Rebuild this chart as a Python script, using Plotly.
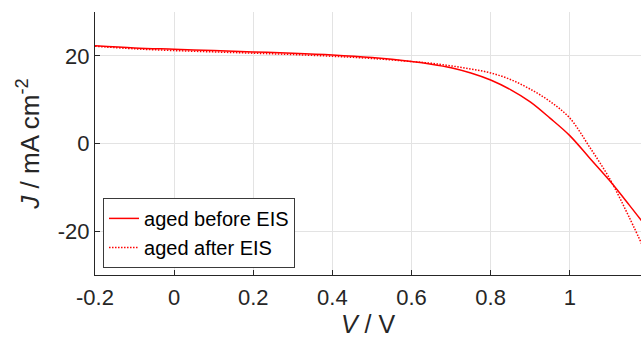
import plotly.graph_objects as go

V_before = [-0.2, -0.1, 0.0, 0.1, 0.2, 0.3, 0.4, 0.5, 0.6, 0.65, 0.7, 0.75, 0.8, 0.85, 0.9, 0.95, 1.0, 1.05, 1.1, 1.15, 1.2]
J_before = [22.3, 21.8, 21.5, 21.2, 20.9, 20.6, 20.2, 19.6, 18.7, 18.1, 17.3, 16.1, 14.5, 12.3, 9.5, 5.8, 1.8, -3.3, -8.4, -14.0, -19.8]

V_after = [-0.2, -0.1, 0.0, 0.1, 0.2, 0.3, 0.4, 0.5, 0.6, 0.65, 0.7, 0.75, 0.8, 0.85, 0.9, 0.95, 1.0, 1.05, 1.1, 1.15, 1.2]
J_after = [22.2, 21.6, 21.2, 20.9, 20.6, 20.3, 19.9, 19.4, 18.7, 18.3, 17.7, 17.0, 16.1, 14.6, 12.4, 9.6, 5.8, -0.8, -7.9, -16.8, -26.5]

x_tickvals = [-0.2, 0, 0.2, 0.4, 0.6, 0.8, 1.0]
x_ticktext = ["-0.2", "0", "0.2", "0.4", "0.6", "0.8", "1"]
y_tickvals = [-20, 0, 20]
y_ticktext = ["-20", "0", "20"]

FONT = "Liberation Sans, Arial, sans-serif"
TXT = "#262626"

fig = go.Figure()
fig.add_trace(go.Scatter(x=V_before, y=J_before, mode="lines", name="aged before EIS",
                         line=dict(color="red", width=1.5, dash="solid"), line_shape="spline"))
fig.add_trace(go.Scatter(x=V_after, y=J_after, mode="lines", name="aged after EIS",
                         line=dict(color="red", width=1.5, dash="1.5px,1.5px"), line_shape="spline"))

fig.update_layout(
    width=641, height=343,
    margin=dict(l=95, r=0, t=12, b=68, autoexpand=False),
    paper_bgcolor="white", plot_bgcolor="white",
    font=dict(family=FONT, color=TXT, size=22),
    showlegend=True,
    legend=dict(x=0.0147, y=0.027, xanchor="left", yanchor="bottom",
                bgcolor="white", bordercolor="#3a3a3a", borderwidth=1,
                font=dict(size=20, color="black"), tracegroupgap=0,
                itemwidth=30),
)
fig.update_xaxes(range=[-0.2, 1.18], tickvals=x_tickvals, ticktext=x_ticktext,
                 automargin=False,
                 showgrid=True, gridcolor="#e3e3e3", gridwidth=1, zeroline=False,
                 showline=True, linecolor=TXT, linewidth=1, mirror=False,
                 ticks="inside", ticklen=5, tickcolor=TXT, ticklabelstandoff=3,
                 tickfont=dict(size=22, color=TXT),
                 title=dict(text="<i>V</i> / V", font=dict(size=25, color=TXT), standoff=6))
fig.update_yaxes(range=[-30, 30], tickvals=y_tickvals, ticktext=y_ticktext,
                 automargin=False,
                 showgrid=True, gridcolor="#e3e3e3", gridwidth=1, zeroline=False,
                 showline=True, linecolor=TXT, linewidth=1, mirror=False,
                 ticks="inside", ticklen=5, tickcolor=TXT,
                 tickfont=dict(size=22, color=TXT),
                 title=dict(text="<i>J</i> / mA cm<sup>-2</sup>", font=dict(size=26, color=TXT), standoff=10))

fig.write_html("out.html", config={"displayModeBar": False},
               post_script="document.body.style.margin='0';document.body.style.overflow='hidden';")
